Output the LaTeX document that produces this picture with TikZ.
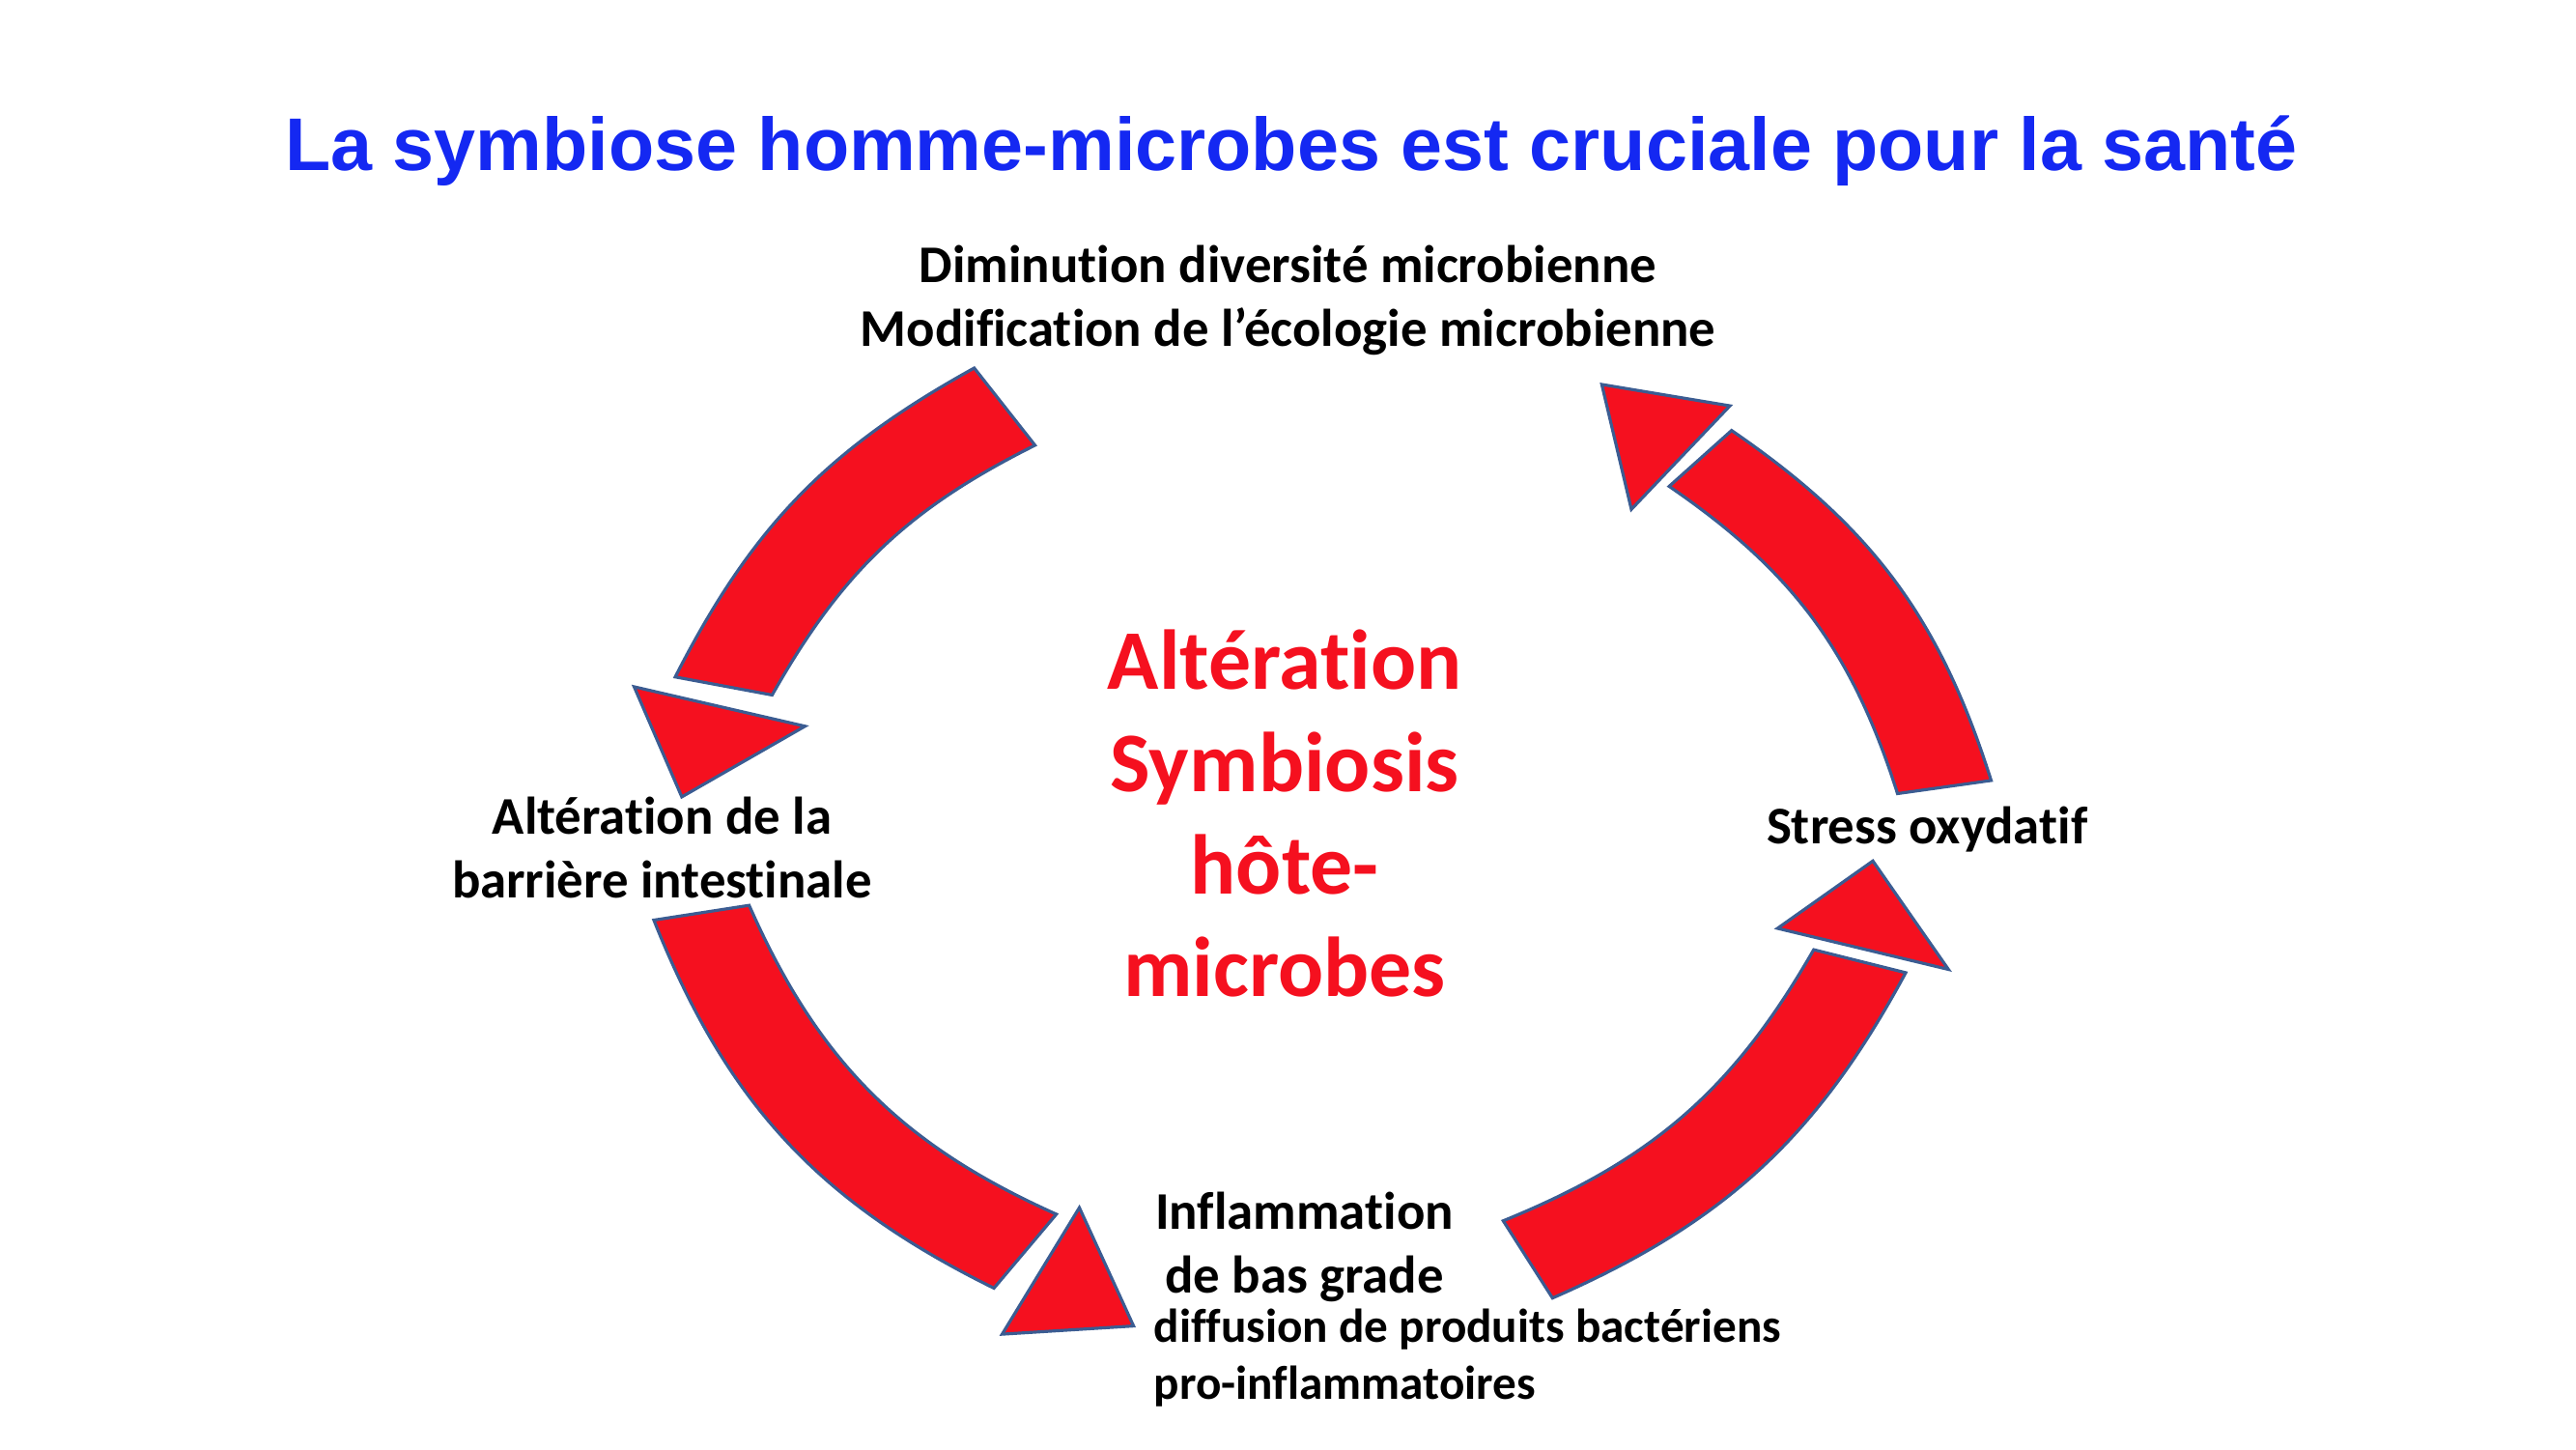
\documentclass[tikz,border=0pt]{standalone}
\usepackage{fontspec}
\setmainfont{Carlito}[Ligatures=NoCommon]
\newfontfamily\titlefont{Liberation Sans}
\usepackage{xcolor}
\usetikzlibrary{positioning}
\definecolor{TitleBlue}{HTML}{1428F2}
\definecolor{CycleRed}{HTML}{F5101F}
\definecolor{EdgeBlue}{HTML}{3B5C92}
\tikzset{
  blk/.style={fill=CycleRed,draw=EdgeBlue,line width=0.9pt,line join=miter},
  lbl/.style={inner sep=0pt,align=center,font=\bfseries\fontsize{15.6}{18.8}\selectfont},
  sub/.style={inner sep=0pt,align=left,font=\bfseries\fontsize{14}{16.9}\selectfont}
}
\begin{document}
\begin{tikzpicture}[x=0.017009cm,y=-0.017009cm]
  \useasboundingbox (0,0) rectangle (1568,882);
  % title
  \node[inner sep=0pt,text=TitleBlue,font=\titlefont\bfseries\fontsize{22}{26}\selectfont] (title) at (786,92) {La symbiose homme-microbes est cruciale pour la santé};
  % centre
  \node[inner sep=0pt,align=center,text=CycleRed,font=\bfseries\fontsize{25}{30.1}\selectfont] (mid) at (782,495) {Altération\\Symbiosis\\hôte-\\microbes};
  % labels round the cycle
  \node[lbl] (eco) at (784,183) {Diminution diversité microbienne\\Modification de l’écologie microbienne};
  \node[lbl] (barr) at (403,516) {Altération de la\\barrière intestinale};
  \node[lbl] (infl) at (794,759) {Inflammation\\ de bas grade};
  \node[sub,anchor=north west] (diff) at (702,796) {diffusion de produits bactériens\\pro-inflammatoires};
  \node[lbl] (ox) at (1173,505) {Stress oxydatif};
  % arrows
  \draw[blk] (593,224) to[bend right=17] (411,412) -- (470,423) to[bend left=17] (630,271) -- cycle;
  \draw[blk] (386,418) -- (490,442) -- (415,485) -- cycle;
  \draw[blk] (398,560) to[bend right=21] (605,784) -- (643,739) to[bend left=21] (456,551) -- cycle;
  \draw[blk] (657,735) -- (690,807) -- (610,812) -- cycle;
  \draw[blk] (945,790) to[bend right=19] (1160,592) -- (1104,578) to[bend left=19] (915,743) -- cycle;
  \draw[blk] (1082,565) -- (1140,524) -- (1186,590) -- cycle;
  \draw[blk] (1212,475) to[bend right=19] (1054,262) -- (1016,296) to[bend left=19] (1155,483) -- cycle;
  \draw[blk] (975,234) -- (1053,247) -- (993,310) -- cycle;
\end{tikzpicture}
\end{document}
